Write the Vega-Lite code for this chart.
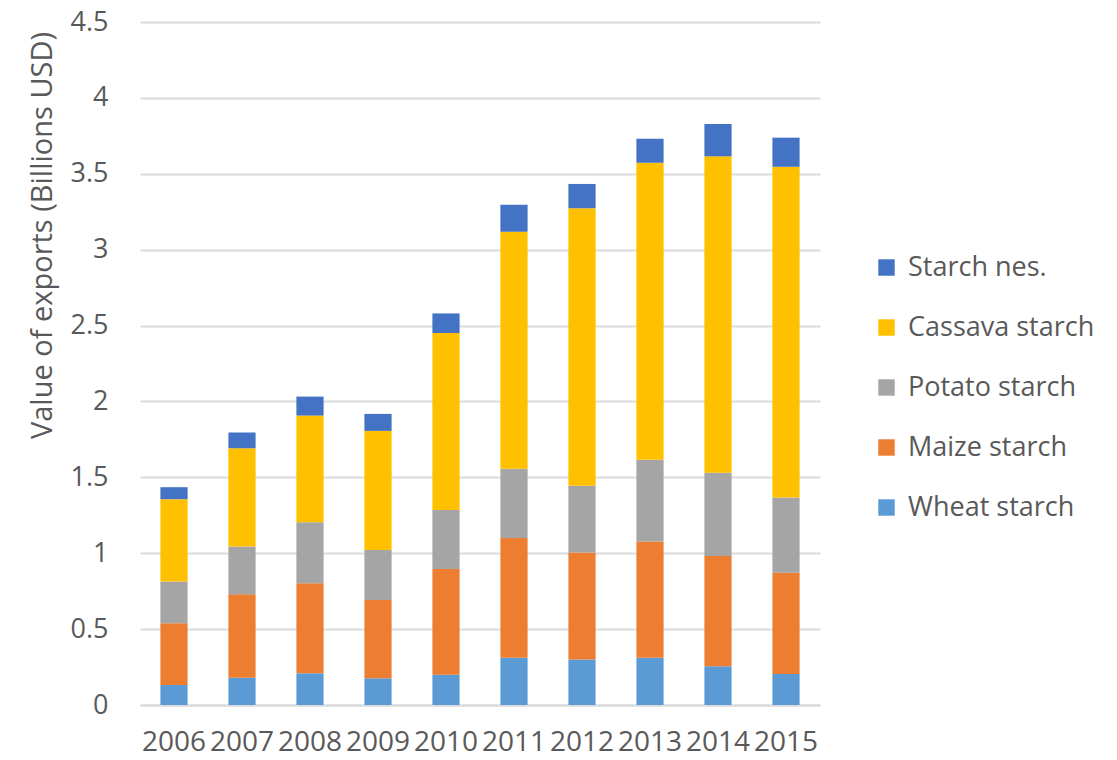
{
  "$schema": "https://vega.github.io/schema/vega-lite/v6.json",
  "autosize": {"type": "none"},
  "padding": {"left": 140, "top": 22, "right": 297, "bottom": 55},
  "width": 680,
  "height": 683,
  "background": "white",
  "config": {
    "view": {"stroke": null},
    "font": "Open Sans",
    "axis": {"labelColor": "#595959", "titleColor": "#595959", "labelFont": "Open Sans", "titleFont": "Open Sans"},
    "legend": {"labelFont": "Open Sans"}
  },
  "data": {
    "values": [
      {"year": "2006", "type": "Wheat starch", "value": 0.132},
      {"year": "2006", "type": "Maize starch", "value": 0.407},
      {"year": "2006", "type": "Potato starch", "value": 0.274},
      {"year": "2006", "type": "Cassava starch", "value": 0.543},
      {"year": "2006", "type": "Starch nes.", "value": 0.079},
      {"year": "2007", "type": "Wheat starch", "value": 0.18},
      {"year": "2007", "type": "Maize starch", "value": 0.55},
      {"year": "2007", "type": "Potato starch", "value": 0.314},
      {"year": "2007", "type": "Cassava starch", "value": 0.648},
      {"year": "2007", "type": "Starch nes.", "value": 0.103},
      {"year": "2008", "type": "Wheat starch", "value": 0.209},
      {"year": "2008", "type": "Maize starch", "value": 0.593},
      {"year": "2008", "type": "Potato starch", "value": 0.402},
      {"year": "2008", "type": "Cassava starch", "value": 0.703},
      {"year": "2008", "type": "Starch nes.", "value": 0.125},
      {"year": "2009", "type": "Wheat starch", "value": 0.176},
      {"year": "2009", "type": "Maize starch", "value": 0.516},
      {"year": "2009", "type": "Potato starch", "value": 0.33},
      {"year": "2009", "type": "Cassava starch", "value": 0.784},
      {"year": "2009", "type": "Starch nes.", "value": 0.112},
      {"year": "2010", "type": "Wheat starch", "value": 0.2},
      {"year": "2010", "type": "Maize starch", "value": 0.696},
      {"year": "2010", "type": "Potato starch", "value": 0.388},
      {"year": "2010", "type": "Cassava starch", "value": 1.167},
      {"year": "2010", "type": "Starch nes.", "value": 0.129},
      {"year": "2011", "type": "Wheat starch", "value": 0.311},
      {"year": "2011", "type": "Maize starch", "value": 0.789},
      {"year": "2011", "type": "Potato starch", "value": 0.456},
      {"year": "2011", "type": "Cassava starch", "value": 1.562},
      {"year": "2011", "type": "Starch nes.", "value": 0.178},
      {"year": "2012", "type": "Wheat starch", "value": 0.3},
      {"year": "2012", "type": "Maize starch", "value": 0.704},
      {"year": "2012", "type": "Potato starch", "value": 0.44},
      {"year": "2012", "type": "Cassava starch", "value": 1.829},
      {"year": "2012", "type": "Starch nes.", "value": 0.16},
      {"year": "2013", "type": "Wheat starch", "value": 0.311},
      {"year": "2013", "type": "Maize starch", "value": 0.767},
      {"year": "2013", "type": "Potato starch", "value": 0.538},
      {"year": "2013", "type": "Cassava starch", "value": 1.957},
      {"year": "2013", "type": "Starch nes.", "value": 0.158},
      {"year": "2014", "type": "Wheat starch", "value": 0.256},
      {"year": "2014", "type": "Maize starch", "value": 0.726},
      {"year": "2014", "type": "Potato starch", "value": 0.549},
      {"year": "2014", "type": "Cassava starch", "value": 2.084},
      {"year": "2014", "type": "Starch nes.", "value": 0.213},
      {"year": "2015", "type": "Wheat starch", "value": 0.205},
      {"year": "2015", "type": "Maize starch", "value": 0.667},
      {"year": "2015", "type": "Potato starch", "value": 0.495},
      {"year": "2015", "type": "Cassava starch", "value": 2.179},
      {"year": "2015", "type": "Starch nes.", "value": 0.192}
    ]
  },
  "transform": [
    {"calculate": "indexof(['Wheat starch','Maize starch','Potato starch','Cassava starch','Starch nes.'], datum.type)", "as": "stackOrder"}
  ],
  "mark": {"type": "bar"},
  "encoding": {
    "x": {
      "field": "year",
      "type": "ordinal",
      "scale": {"paddingInner": 0.6, "paddingOuter": 0.3},
      "axis": {
        "title": null,
        "labelAngle": 0,
        "labelFontSize": 28,
        "labelPadding": 23,
        "ticks": false,
        "domainColor": "#D9D9D9",
        "domainWidth": 2,
        "labelLimit": 200,
        "labelOverlap": false
      }
    },
    "y": {
      "field": "value",
      "type": "quantitative",
      "stack": "zero",
      "scale": {"domain": [0, 4.5], "nice": false},
      "axis": {
        "title": "Value of exports (Billions USD)",
        "titleFontSize": 29,
        "titleFontWeight": "normal",
        "titleX": -83,
        "titleY": 213,
        "titleAlign": "center",
        "titleAngle": 270,
        "titleBaseline": "bottom",
        "values": [0, 0.5, 1, 1.5, 2, 2.5, 3, 3.5, 4, 4.5],
        "format": "~g",
        "labelFontSize": 27,
        "labelPadding": 32,
        "ticks": false,
        "domain": false,
        "gridColor": "#D9D9D9",
        "gridWidth": 2
      }
    },
    "color": {
      "field": "type",
      "type": "nominal",
      "scale": {
        "domain": ["Starch nes.", "Cassava starch", "Potato starch", "Maize starch", "Wheat starch"],
        "range": ["#4472C4", "#FFC000", "#A5A5A5", "#ED7D31", "#5B9BD5"]
      },
      "legend": {
        "title": null,
        "orient": "none",
        "legendX": 733,
        "legendY": 232,
        "symbolType": "square",
        "symbolSize": 270,
        "symbolStrokeWidth": 0,
        "labelFontSize": 27,
        "labelColor": "#595959",
        "labelOffset": 8,
        "rowPadding": 32,
        "padding": 0,
        "labelLimit": 300
      }
    },
    "order": {"field": "stackOrder", "type": "quantitative", "sort": "ascending"}
  }
}
